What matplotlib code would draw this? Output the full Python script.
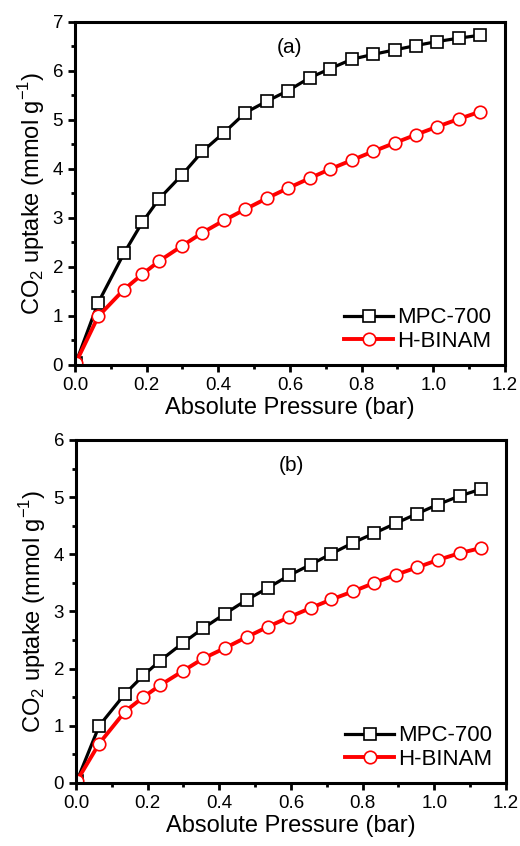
import matplotlib
matplotlib.use("Agg")
import matplotlib.pyplot as plt
from matplotlib.ticker import MultipleLocator

plt.rcParams['font.family'] = ['Liberation Sans', 'DejaVu Sans']
plt.rcParams['mathtext.fontset'] = 'custom'
plt.rcParams['mathtext.rm'] = 'Liberation Sans'

# pressure points (bar)
p = [0.003, 0.065, 0.137, 0.188, 0.235, 0.299, 0.356, 0.416, 0.476, 0.535,
     0.595, 0.655, 0.713, 0.773, 0.833, 0.892, 0.952, 1.010, 1.071, 1.131]

# (a) uptake
mpc_a = [0.05, 1.27, 2.28, 2.91, 3.39, 3.88, 4.36, 4.74, 5.15, 5.38,
         5.60, 5.86, 6.05, 6.24, 6.34, 6.43, 6.52, 6.60, 6.67, 6.73]
hb_a = [0.05, 0.99, 1.54, 1.85, 2.12, 2.43, 2.70, 2.95, 3.18, 3.40,
        3.61, 3.81, 4.00, 4.18, 4.36, 4.53, 4.70, 4.86, 5.02, 5.17]

# (b) uptake
mpc_b = [0.04, 1.00, 1.56, 1.88, 2.14, 2.45, 2.71, 2.96, 3.20, 3.41,
         3.63, 3.82, 4.01, 4.20, 4.37, 4.54, 4.71, 4.87, 5.02, 5.14]
hb_b = [0.04, 0.69, 1.25, 1.50, 1.71, 1.96, 2.18, 2.36, 2.55, 2.73,
        2.90, 3.06, 3.21, 3.35, 3.50, 3.64, 3.77, 3.90, 4.02, 4.11]

fig = plt.figure(figsize=(5.2, 8.46), dpi=100)
ax1 = fig.add_axes([0.144, 0.5686, 0.827, 0.4054])
ax2 = fig.add_axes([0.146, 0.0745, 0.827, 0.4055])

panels = [(ax1, mpc_a, hb_a, 7, '(a)'), (ax2, mpc_b, hb_b, 6, '(b)')]
for ax, m, h, ymax, tag in panels:
    ax.plot(p, m, color='black', lw=2.3, marker='s', ms=8, mfc='white',
            mec='black', mew=1.2, label='MPC-700')
    ax.plot(p, h, color='red', lw=2.8, marker='o', ms=9, mfc='white',
            mec='red', mew=1.2, label='H-BINAM')
    ax.set_xlim(0, 1.2)
    ax.set_ylim(0, ymax)
    ax.xaxis.set_major_locator(MultipleLocator(0.2))
    ax.xaxis.set_minor_locator(MultipleLocator(0.1))
    ax.yaxis.set_major_locator(MultipleLocator(1))
    ax.yaxis.set_minor_locator(MultipleLocator(0.5))
    ax.tick_params(which='both', direction='out', width=2, labelsize=13.5,
                   top=False, right=False)
    ax.tick_params(which='major', length=5)
    ax.tick_params(which='minor', length=3)
    for s in ax.spines.values():
        s.set_linewidth(2.2)
    ax.set_xlabel('Absolute Pressure (bar)', fontsize=17, labelpad=2)
    ax.set_ylabel('CO$_2$ uptake (mmol g$^{-1}$)', fontsize=17, labelpad=4)
    ax.text(0.5, 0.925, tag, transform=ax.transAxes, ha='center', va='center',
            fontsize=15)
    ax.legend(loc='lower right', frameon=False, fontsize=16, handlelength=2.2,
              handletextpad=0.2, borderaxespad=0.2, labelspacing=0.1)

fig.savefig('out.png', dpi=100)
